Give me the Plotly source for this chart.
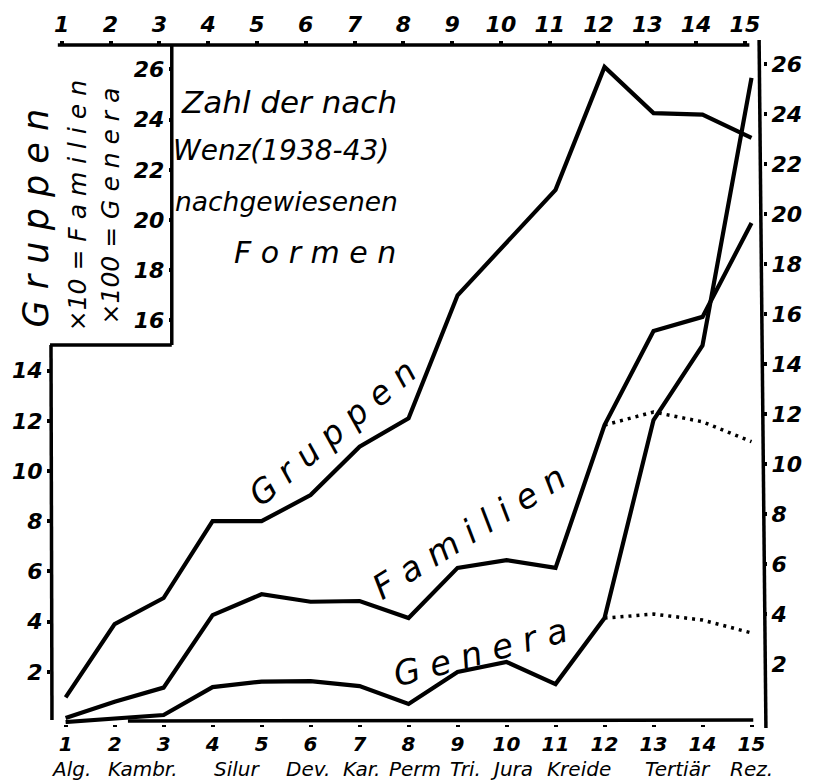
import plotly.graph_objects as go

# ---------------- data ----------------
stufe = list(range(1, 16))
gruppen = [0.98, 3.9, 4.94, 8.0, 8.0, 9.04, 10.97, 12.1, 17.0, 19.1, 21.2, 26.1, 24.26, 24.2, 23.27]
familien = [0.16, 0.81, 1.37, 4.26, 5.09, 4.79, 4.82, 4.14, 6.14, 6.45, 6.14, 11.83, 15.58, 16.14, 19.88]
genera = [0.0, 0.14, 0.28, 1.39, 1.61, 1.63, 1.43, 0.72, 1.99, 2.39, 1.51, 4.14, 12.03, 15.0, 25.66]
stufe_proj = [12, 13, 14, 15]
familien_proj = [11.83, 12.35, 11.96, 11.17]
genera_proj = [4.14, 4.3, 4.06, 3.55]
perioden = ["Alg.", "Kambr.", "Silur", "Dev.", "Kar.", "Perm", "Tri.", "Jura", "Kreide", "Tertiär", "Rez."]
perioden_x = [1.1, 2.57, 4.5, 5.95, 7.04, 8.14, 9.17, 10.1, 11.48, 13.49, 15.0]
ticks_left_low = [2, 4, 6, 8, 10, 12, 14]
ticks_left_high = [16, 18, 20, 22, 24, 26]
ticks_right = [2, 4, 6, 8, 10, 12, 14, 16, 18, 20, 22, 24, 26]

# ---------------- geometry ----------------
W, H = 814, 784
PL, PR, PT, PB = 41, 772, 45, 724


def px(x):
    return (x - PL) / (PR - PL)


def py(y):
    return (PB - y) / (PB - PT)


X_RANGE = [1 + (PL - 56) / 50.3, 1 + (PR - 56) / 50.3]
X2_RANGE = [1 + (PL - 52) / 50.1, 1 + (PR - 52) / 50.1]
Y_RANGE = [(722 - PB) / 25.1, (722 - PT) / 25.1]
Y2_RANGE = [(714 - PB) / 25.0, (714 - PT) / 25.0]

FONT = "DejaVu Sans"
numfont = dict(family=FONT, size=22, color="black", style="italic", weight="bold")

fig = go.Figure()
LW = 4.2
fig.add_trace(go.Scatter(x=stufe, y=gruppen, mode="lines", line=dict(color="black", width=LW), hoverinfo="skip"))
fig.add_trace(go.Scatter(x=stufe, y=familien, mode="lines", line=dict(color="black", width=LW), hoverinfo="skip"))
fig.add_trace(go.Scatter(x=stufe, y=genera, mode="lines", line=dict(color="black", width=LW), hoverinfo="skip"))
fig.add_trace(go.Scatter(x=stufe_proj, y=familien_proj, mode="lines",
                         line=dict(color="black", width=3.5, dash="3px,5px"), hoverinfo="skip"))
fig.add_trace(go.Scatter(x=stufe_proj, y=genera_proj, mode="lines",
                         line=dict(color="black", width=3.5, dash="3px,5px"), hoverinfo="skip"))
# invisible traces to activate secondary axes
fig.add_trace(go.Scatter(x=[stufe[0]], y=[0], xaxis="x2", yaxis="y2", mode="markers",
                         marker=dict(opacity=0), hoverinfo="skip"))
fig.add_trace(go.Scatter(x=[stufe[0]], y=[0], xaxis="x", yaxis="y3", mode="markers",
                         marker=dict(opacity=0), hoverinfo="skip"))

tickstyle = dict(ticks="outside", ticklen=3, tickwidth=4, tickcolor="black",
                 showgrid=False, zeroline=False, showline=False, tickfont=numfont)
bottom_style = dict(tickstyle)
bottom_style.update(ticklen=2, tickfont=dict(numfont, size=20))

fig.update_layout(
    width=W, height=H,
    margin=dict(l=PL, r=W - PR, t=PT, b=H - PB),
    paper_bgcolor="white", plot_bgcolor="white",
    showlegend=False,
    xaxis=dict(range=X_RANGE, tickvals=stufe, ticktext=[str(s) for s in stufe], **bottom_style),
    xaxis2=dict(range=X2_RANGE, overlaying="x", side="top", anchor="y",
                tickvals=stufe, ticktext=[str(s) for s in stufe], **tickstyle),
    yaxis=dict(range=Y_RANGE, tickvals=ticks_left_low, ticktext=[str(t) for t in ticks_left_low], **tickstyle),
    yaxis3=dict(range=Y_RANGE, overlaying="y", anchor="free", position=px(165), side="left",
                tickvals=ticks_left_high, ticktext=[str(t) for t in ticks_left_high], **tickstyle),
    yaxis2=dict(range=Y2_RANGE, overlaying="y", side="right", anchor="x",
                tickvals=ticks_right, ticktext=[str(t) for t in ticks_right], **tickstyle),
)

# hand-drawn frame
frame = [
    ((48, 45), (758, 45)),
    ((165, 45), (165, 345)),
    ((40, 345), (165, 345)),
    ((41, 345), (42, 720)),
    ((768, 40), (775, 728)),
    ((120, 721), (762, 720)),
]
for (x0, y0), (x1, y1) in frame:
    fig.add_shape(type="line", xref="paper", yref="paper", x0=px(x0), y0=py(y0), x1=px(x1), y1=py(y1),
                  line=dict(color="black", width=3.5))

# period names under the bottom axis
for name, xv in zip(perioden, perioden_x):
    fig.add_annotation(x=xv, y=py(769), xref="x", yref="paper", text=name, showarrow=False,
                       font=dict(family=FONT, size=20, color="black", style="italic"),
                       xanchor="center", yanchor="middle")

# title inside the box
title_lines = [("Zahl der nach", 285, 102, 31), ("Wenz(1938-43)", 277, 150, 28),
               ("nachgewiesenen", 283, 202, 26.5), ("F o r m e n", 312, 252, 30)]
for t, x, y, s in title_lines:
    fig.add_annotation(x=px(x), y=py(y), xref="paper", yref="paper", text=t, showarrow=False,
                       font=dict(family=FONT, size=s, color="black", style="italic"),
                       xanchor="center", yanchor="middle")

# rotated axis legend on the left
side_txt = [("G r u p p e n", 26, 218, 35), ("×10 = F a m i l i e n", 68, 206, 25),
            ("×100 = G e n e r a", 102, 206, 25)]
for t, x, y, s in side_txt:
    fig.add_annotation(x=px(x), y=py(y), xref="paper", yref="paper", text=t, showarrow=False,
                       textangle=-90, font=dict(family=FONT, size=s, color="black", style="italic"),
                       xanchor="center", yanchor="middle")

# curve labels
curve_lbl = [("G r u p p e n", 330, 432, -40, 33), ("F a m i l i e n", 470, 532, -32, 34),
             ("G e n e r a", 482, 652, -15, 34)]
for t, x, y, a, s in curve_lbl:
    fig.add_annotation(x=px(x), y=py(y), xref="paper", yref="paper", text=t, showarrow=False,
                       textangle=a, font=dict(family=FONT, size=s, color="black", style="italic"),
                       xanchor="center", yanchor="middle")

fig.write_html("out.html", config={"displayModeBar": False},
               post_script="document.body.style.margin='0';document.body.style.overflow='hidden';")
